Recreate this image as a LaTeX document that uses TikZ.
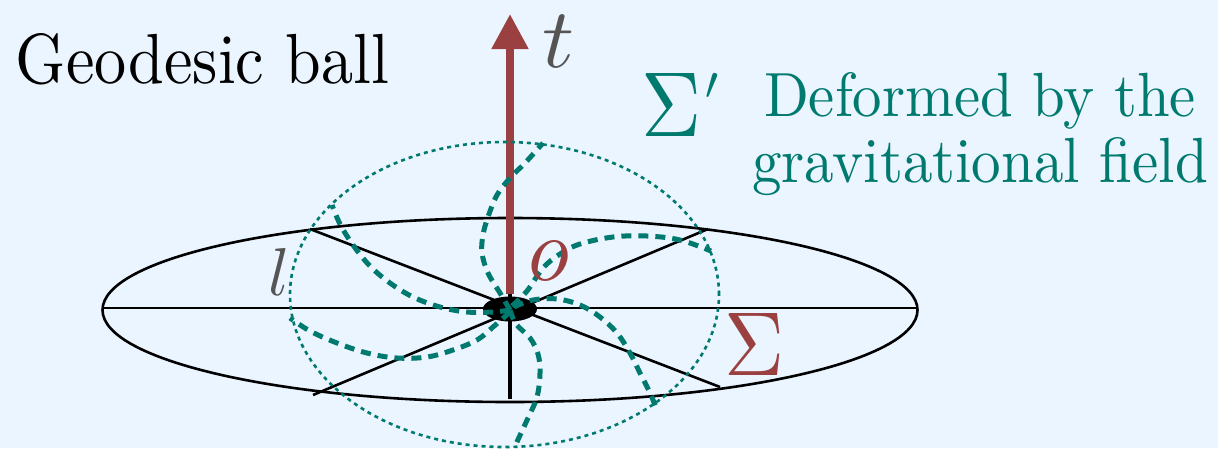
\documentclass[tikz,border=0pt]{standalone}
\usepackage{fontspec}
\usepackage{graphicx}
\usetikzlibrary{arrows.meta}
\definecolor{bgblue}{RGB}{235,245,255}
\definecolor{tealc}{RGB}{0,122,110}
\definecolor{redc}{RGB}{155,64,64}
\definecolor{grayc}{RGB}{85,85,85}
\tikzset{
  blackline/.style={black, line width=2.6pt},
  tealdotted/.style={tealc, line width=2.6pt, dash pattern=on 4pt off 4pt},
  tealdashed/.style={tealc, line width=5pt, dash pattern=on 10pt off 7pt},
  lbl/.style={inner sep=0pt, outer sep=0pt, anchor=base west},
}
\begin{document}
\begin{tikzpicture}[x=1pt,y=-1pt]
\useasboundingbox (0,0) rectangle (1218,448);
\fill[bgblue] (0,0) rectangle (1218,448);

% named points
\coordinate (O) at (510,309);
\coordinate (L) at (103,308);
\coordinate (R) at (918,308);
\coordinate (UL) at (310,229);
\coordinate (UR) at (708,229);
\coordinate (LL) at (313,395);
\coordinate (LR) at (720,387);
\coordinate (B) at (510,399);
\coordinate (Vt) at (510,290);
\coordinate (As) at (510,294);
\coordinate (T) at (510,14);

% geodesic ball (flat disc)
\draw[blackline] (510,310) ellipse [x radius=407.5pt, y radius=92pt];
\draw[blackline] (L) -- (R);
\draw[blackline] (UL) -- (LR);
\draw[blackline] (UR) -- (LL);
\draw[black, line width=4pt] (B) -- (Vt);

% time arrow
\draw[redc, line width=8pt, -{Triangle[length=35pt,width=35pt]}] (As) -- (T);

% center mass
\fill[black] (O) ellipse [x radius=27pt, y radius=12.5pt];

% deformed surface
\draw[tealdotted] (504.5,294.5) ellipse [x radius=214.5pt, y radius=152.5pt];
\draw[tealdashed] plot[smooth, tension=0.6] coordinates {(510,310) (500,293) (488,273) (482,253) (483,235) (488,217) (497,195) (510,178) (525,163) (543,143)};
\draw[tealdashed] plot[smooth, tension=0.6] coordinates {(512,306) (527,291) (543,268) (560,254) (580,244) (613,237) (647,236) (680,240) (711,251)};
\draw[tealdashed] plot[smooth, tension=0.6] coordinates {(514,307) (533,300) (557,299) (580,305) (600,317) (617,333) (630,353) (640,373) (650,393) (657,410)};
\draw[tealdashed] plot[smooth, tension=0.6] coordinates {(510,310) (516,324) (530,338) (538,354) (540,373) (537,397) (528,418) (515,446)};
\draw[tealdashed] plot[smooth, tension=0.6] coordinates {(510,312) (493,327) (477,340) (453,350) (427,357) (397,358) (367,353) (337,343) (310,331) (290,318)};
\draw[tealdashed] plot[smooth, tension=0.6] coordinates {(510,310) (493,312) (467,312) (440,307) (413,297) (390,283) (370,266) (353,245) (340,224) (332,205)};

% labels
\node[lbl] (title) at (16,83) {\resizebox{373pt}{50pt}{Geodesic ball}};
\node[lbl, text=tealc] (d1) at (764,116) {\resizebox{432pt}{44pt}{Deformed by the}};
\node[lbl, text=tealc] (d2) at (752,182) {\resizebox{456pt}{45pt}{gravitational field}};
\node[lbl, text=grayc] (tl) at (542,67) {\resizebox{32pt}{52pt}{$t$}};
\node[lbl, text=redc] (ol) at (528,280) {\resizebox{41pt}{39pt}{$o$}};
\node[lbl, text=grayc] (ll) at (268,295) {\resizebox{!}{47pt}{$l$}};
\node[lbl, text=redc] (sig) at (724,375) {\resizebox{60pt}{62pt}{$\Sigma$}};
\node[lbl, text=tealc] (sigp) at (641,136) {\resizebox{60pt}{63pt}{$\Sigma$}\hspace{4pt}\raisebox{37pt}{\resizebox{!}{26pt}{$\prime$}}};
\end{tikzpicture}
\end{document}
